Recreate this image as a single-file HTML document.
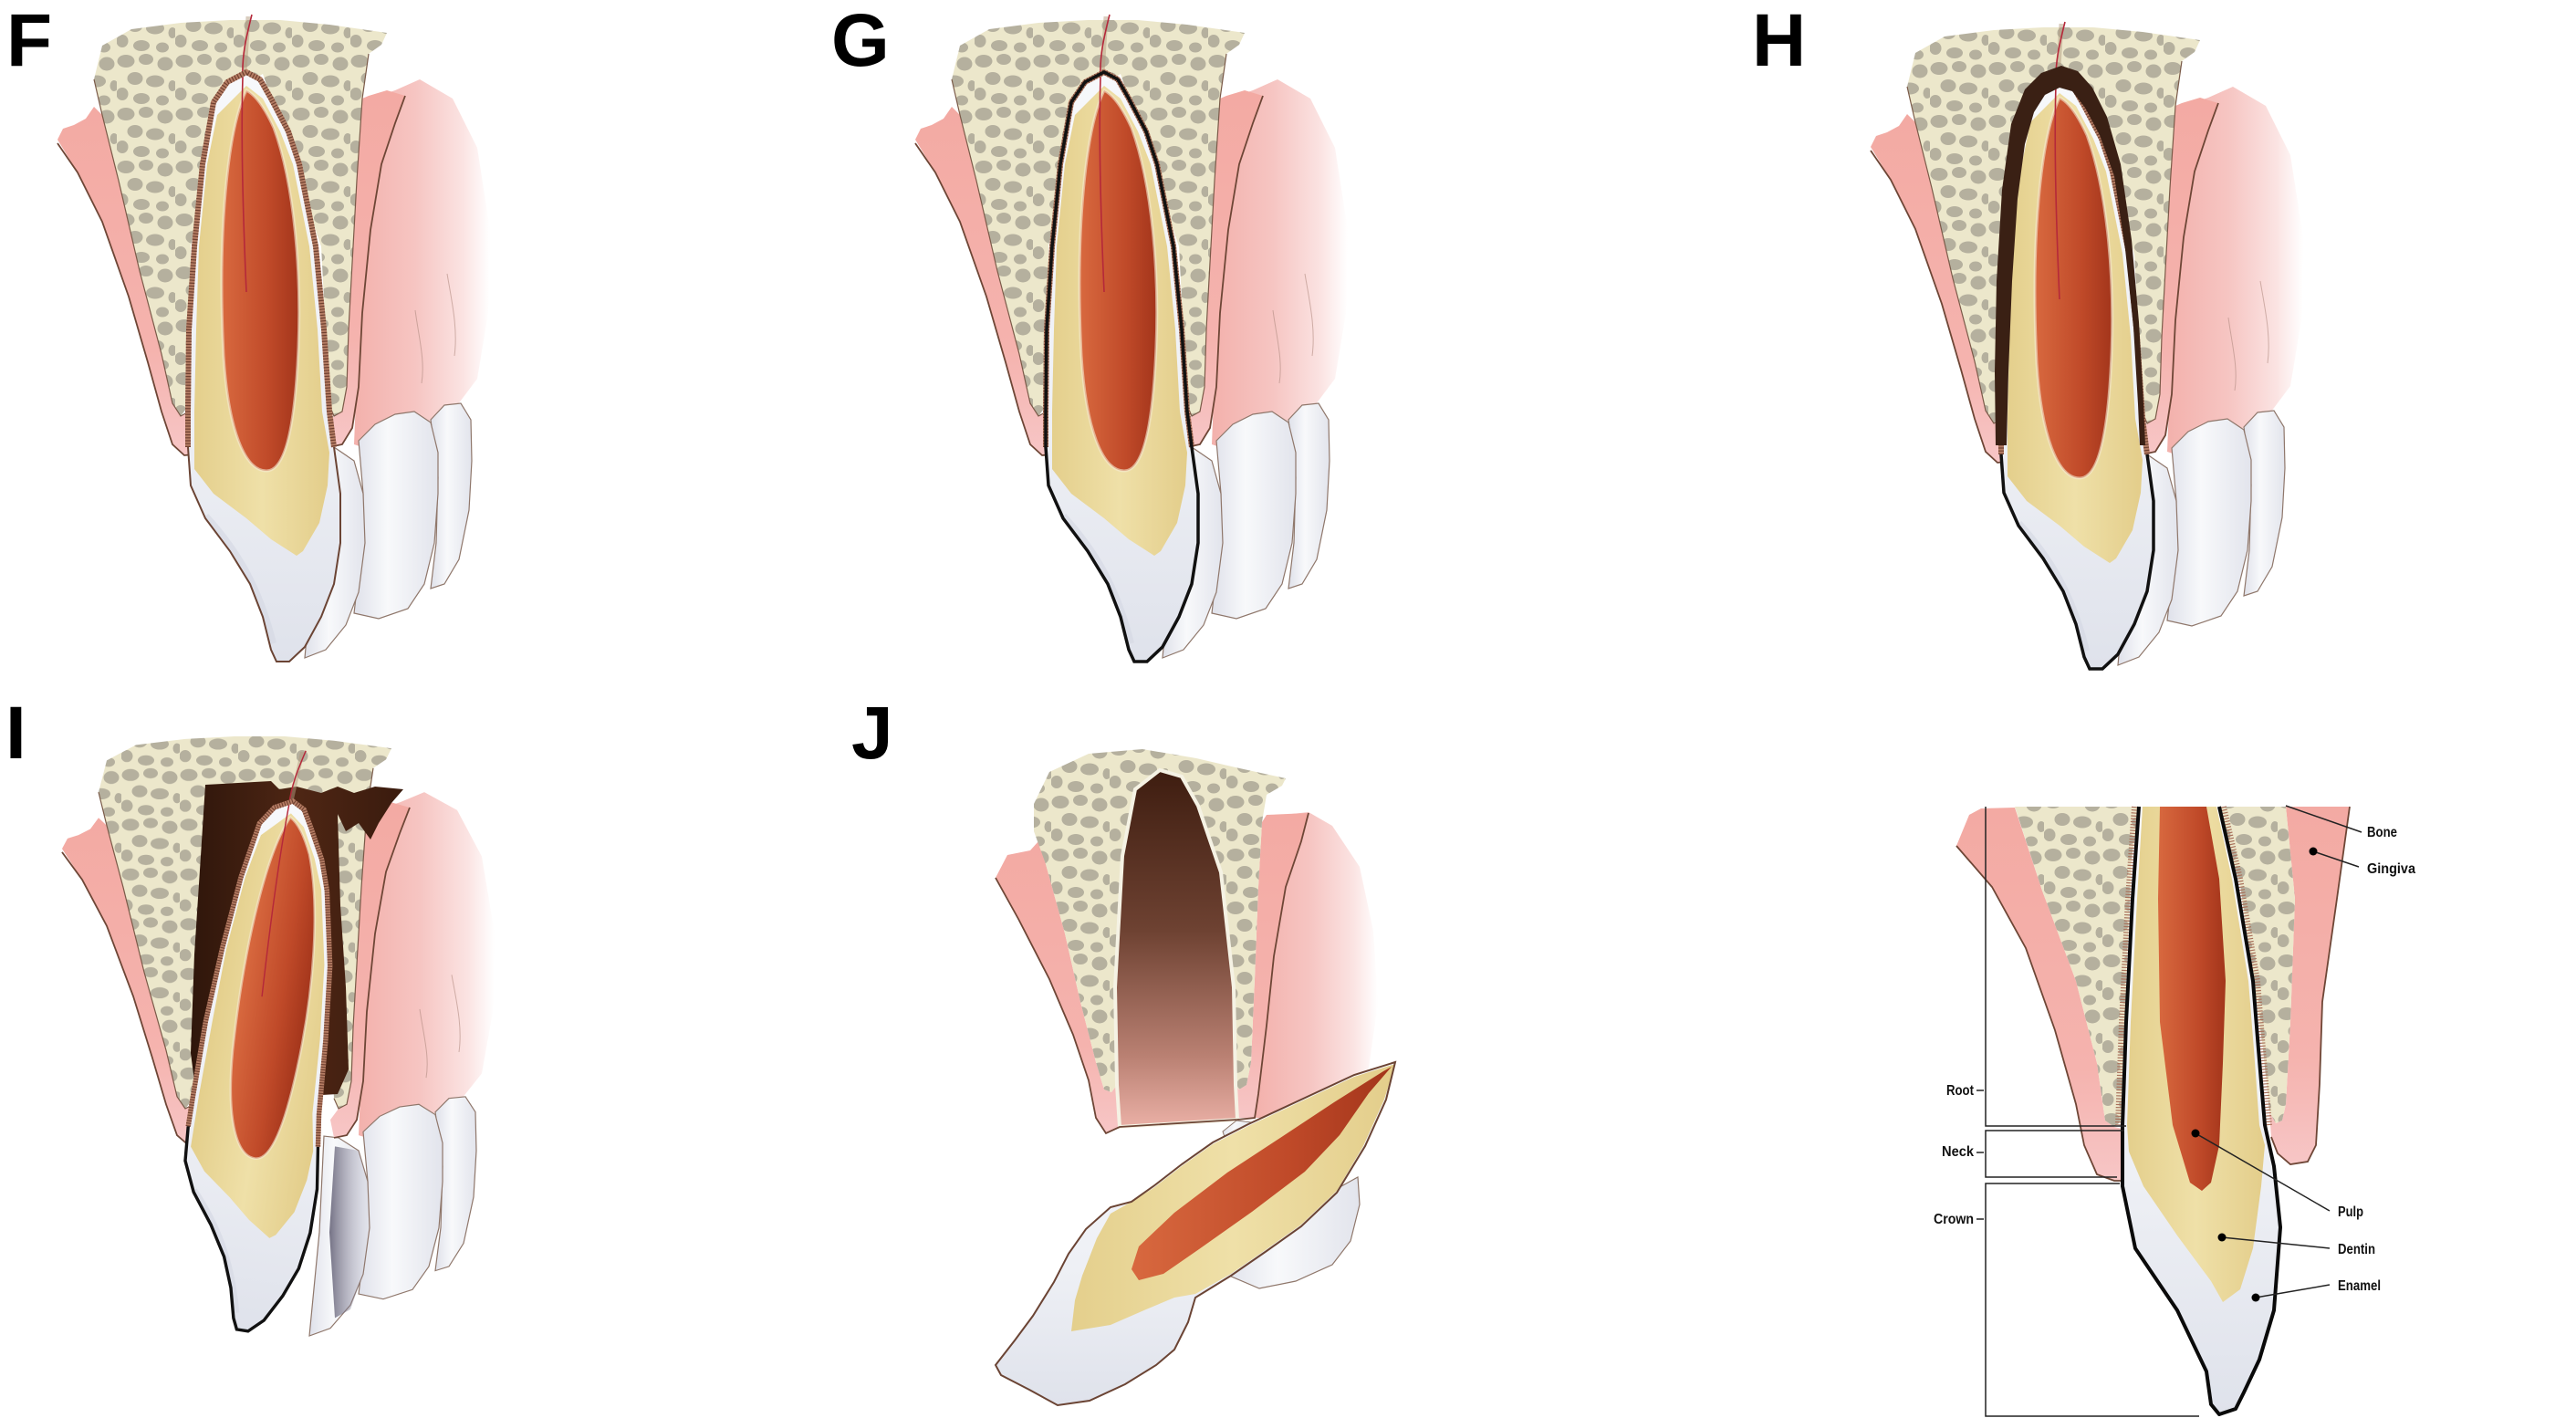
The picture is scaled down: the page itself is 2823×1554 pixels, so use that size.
<!DOCTYPE html>
<html><head><meta charset="utf-8">
<style>
html,body{margin:0;padding:0;background:#fff;}
svg{display:block;}
.lbl{font-family:"Liberation Sans",Arial,sans-serif;font-weight:bold;font-size:82px;fill:#000;}
.sm{font-family:"Liberation Sans",Arial,sans-serif;font-weight:bold;font-size:16px;fill:#111;}
</style></head><body>
<svg width="2823" height="1554" viewBox="0 0 2823 1554" xmlns="http://www.w3.org/2000/svg">
<defs>
<pattern id="dots" width="64" height="58" patternUnits="userSpaceOnUse">
<rect width="64" height="58" fill="#ece7cb"/>
<g fill="#b5b09e">
<ellipse cx="10" cy="9" rx="9.5" ry="7"/><ellipse cx="32" cy="7" rx="8" ry="6"/><ellipse cx="53" cy="12" rx="8.5" ry="7.5"/>
<ellipse cx="20" cy="28" rx="8.5" ry="7"/><ellipse cx="42" cy="31" rx="10" ry="6.5"/><ellipse cx="61" cy="36" rx="4.5" ry="6"/>
<ellipse cx="6" cy="45" rx="6.5" ry="7"/><ellipse cx="27" cy="50" rx="9" ry="6"/><ellipse cx="50" cy="52" rx="7" ry="5.5"/>
</g></pattern>
<linearGradient id="gum" x1="0" y1="0" x2="0" y2="1"><stop offset="0" stop-color="#f3aaa3"/><stop offset="0.7" stop-color="#f5b3ae"/><stop offset="1" stop-color="#f7c6c6"/></linearGradient>
<linearGradient id="soft" x1="0" y1="0" x2="1" y2="0"><stop offset="0" stop-color="#f3b1ac"/><stop offset="0.45" stop-color="#f6c5c2"/><stop offset="0.8" stop-color="#fbe3e2"/><stop offset="1" stop-color="#ffffff"/></linearGradient>
<linearGradient id="pulp" x1="0" y1="0" x2="1" y2="0"><stop offset="0" stop-color="#d8693f"/><stop offset="0.6" stop-color="#c04a29"/><stop offset="1" stop-color="#a3351b"/></linearGradient>
<linearGradient id="dent" x1="0" y1="0" x2="1" y2="0"><stop offset="0" stop-color="#e4cf8c"/><stop offset="0.5" stop-color="#efe0a8"/><stop offset="1" stop-color="#e3cd8a"/></linearGradient>
<linearGradient id="enam" x1="0" y1="0" x2="0" y2="1"><stop offset="0" stop-color="#f7f8fb"/><stop offset="0.6" stop-color="#eef0f5"/><stop offset="1" stop-color="#dfe2eb"/></linearGradient>
<linearGradient id="nb" x1="0" y1="0" x2="1" y2="0"><stop offset="0" stop-color="#dfe1ea"/><stop offset="0.4" stop-color="#f8f9fb"/><stop offset="1" stop-color="#e2e4ec"/></linearGradient>
<linearGradient id="sock" x1="0" y1="0" x2="0" y2="1"><stop offset="0" stop-color="#3e1d10"/><stop offset="0.45" stop-color="#6e4232"/><stop offset="0.8" stop-color="#b98072"/><stop offset="1" stop-color="#eab0a6"/></linearGradient>
<linearGradient id="abs" x1="0" y1="0" x2="1" y2="0"><stop offset="0" stop-color="#2f160b"/><stop offset="0.5" stop-color="#4e2614"/><stop offset="1" stop-color="#3a1b0e"/></linearGradient>
<linearGradient id="purp" x1="0" y1="0" x2="1" y2="0"><stop offset="0" stop-color="#5d5a70" stop-opacity="0.85"/><stop offset="1" stop-color="#9a98ad" stop-opacity="0"/></linearGradient>

<path id="pT" d="M206,490 L206,451 L207,361 L213,270 L222,180 L234,112 L249,90 L270,79 L285,87 L297,108 L316,144 L328,180 L346,270 L355,361 L361,451 L366,490 L373,541 L373,595 L366,640 L352,676 L334,709 L317,725 L303,725 L297,712 L288,676 L274,640 L252,604 L225,568 L209,532 Z"/>
<path id="pCO" d="M206,490 L209,532 L225,568 L252,604 L274,640 L288,676 L297,712 L303,725 L317,725 L334,709 L352,676 L366,640 L373,595 L373,541 L366,490"/>
<path id="pRE" d="M206,490 L206,451 L207,361 L213,270 L222,180 L234,112 L249,90 L270,79 L285,87 L297,108 L316,144 L328,180 L346,270 L355,361 L361,451 L366,490"/>

<g id="base">
<path d="M415,105 L433,99 L460,87 L496,108 L523,162 L537,252 L535,343 L523,415 L496,451 L451,469 L397,490 L388,487 L393,361 L400,250 L410,160 Z" fill="url(#soft)"/>
<path d="M490,300 C495,330 502,360 498,390 M455,340 C459,370 466,395 462,420" stroke="#b08a80" stroke-width="1" fill="none" opacity="0.6"/>
<path d="M472,460 L487,444 L505,442 L516,460 L517,505 L514,559 L503,613 L487,640 L472,645 L478,595 L480,523 Z" fill="url(#nb)" stroke="#8f776b" stroke-width="1.2"/>
<path d="M393,483 L411,465 L433,454 L454,451 L472,463 L480,496 L480,541 L476,595 L465,640 L447,667 L415,678 L388,672 L397,595 L398,541 Z" fill="url(#nb)" stroke="#8f776b" stroke-width="1.2"/>
<path d="M350,488 L366,490 L388,505 L398,541 L400,595 L393,649 L379,685 L357,712 L334,721 L345,600 Z" fill="url(#nb)" stroke="#8f776b" stroke-width="1.2"/>
<path d="M404,105 L424,99 L444,105 L433,135 L418,180 L406,252 L397,343 L393,424 L386,469 L375,487 L361,490 L357,469 L366,456 L375,451 L380,424 L382,361 L386,288 L391,198 L397,108 Z" fill="url(#gum)"/>
<path d="M63,153 L69,141 L81,137 L94,130 L103,117 L112,126 L130,198 L153,297 L177,388 L189,442 L198,456 L207,451 L211,472 L213,498 L202,499 L189,487 L177,451 L162,397 L141,325 L112,243 L85,189 Z" fill="url(#gum)"/>
<path d="M103,87 L112,50 L144,32 L198,25 L252,22 L307,22 L361,27 L424,36 L418,49 L404,59 L397,108 L391,198 L386,288 L382,361 L380,424 L375,451 L366,456 L361,444 L352,270 L288,81 L243,108 L209,270 L207,444 L198,456 L189,442 L177,388 L153,297 L130,198 L112,126 Z" fill="url(#dots)"/>
<polyline points="63,157 85,189 112,243 141,325 162,397 177,451 189,487 202,499 213,498" fill="none" stroke="#6e4636" stroke-width="1.8"/>
<polyline points="444,105 433,135 418,180 406,252 397,343 393,424 386,469 375,487 361,490" fill="none" stroke="#6e4636" stroke-width="1.8"/>
<polyline points="103,87 112,126 130,198 153,297 177,388 189,442 198,456 207,451" fill="none" stroke="#7a5a48" stroke-width="1.2"/>
<polyline points="404,59 397,108 391,198 386,288 382,361 380,424 375,451 366,456 361,444" fill="none" stroke="#7a5a48" stroke-width="1.2"/>
</g>

<g id="tooth">
<use href="#pT" fill="url(#enam)"/>
<path d="M226,565 C258,600 284,640 300,705" fill="none" stroke="#d3d7e2" stroke-width="6" opacity="0.6"/>
<path d="M270,94 L288,108 L307,144 L321,180 L339,270 L348,361 L353,451 L361,496 L359,532 L350,573 L332,604 L325,609 L297,591 L270,568 L234,541 L213,514 L213,451 L215,361 L218,270 L227,180 L238,126 Z" fill="url(#dent)"/>
<path d="M270,99 C250,140 238,250 245,390 C250,470 268,516 292,516 C312,516 322,470 326,400 C332,300 322,200 300,140 C290,118 280,104 270,99 Z" fill="url(#pulp)" stroke="#f5ead0" stroke-width="3" stroke-opacity="0.6"/>
<path d="M272,18 L268,80" stroke="#b49c80" stroke-width="5" opacity="0.5"/>
<path d="M276,16 C270,40 265,60 266,85 C264,150 266,230 270,320" stroke="#b5283a" stroke-width="1.6" fill="none"/>
<use href="#pRE" fill="none" stroke="#b57d64" stroke-width="6"/>
<use href="#pRE" fill="none" stroke="#6f4030" stroke-width="6" stroke-dasharray="1.2 2"/>
<use href="#pCO" fill="none" stroke="#6b4434" stroke-width="2"/>
</g>
</defs>

<rect width="2823" height="1554" fill="#ffffff"/>

<!-- Panel labels -->
<text class="lbl" x="7" y="72">F</text>
<text class="lbl" x="911" y="72">G</text>
<text class="lbl" x="1920" y="72">H</text>
<text class="lbl" x="6" y="831">I</text>
<text class="lbl" x="933" y="831">J</text>

<!-- F -->
<use href="#base"/>
<use href="#tooth"/>

<!-- G -->
<g transform="translate(940,0)">
<use href="#base"/>
<use href="#tooth"/>
<use href="#pT" fill="none" stroke="#111" stroke-width="3.5"/>
</g>

<!-- H -->
<g transform="translate(1987,8)">
<use href="#base"/>
<use href="#tooth"/>
<path d="M200,480 L199,400 L201,300 L207,200 L217,128 L232,90 L250,72 L272,64 L290,70 L306,88 L322,120 L337,172 L349,255 L357,345 L362,435 L364,480 L358,480 L356,435 L351,350 L342,265 L330,185 L314,140 L298,110 L284,92 L270,88 L254,96 L242,115 L232,150 L224,210 L218,300 L214,400 L212,480 Z" fill="#3a2014"/>
<use href="#pCO" fill="none" stroke="#111" stroke-width="3.5"/>
</g>

<!-- I -->
<g transform="translate(5,807) scale(1,0.94) translate(0,-22)">
<use href="#base"/>
<path d="M362,500 L388,505 L398,541 L400,595 L393,649 L379,690 L362,700 L356,600 Z" fill="url(#purp)"/>
</g>
<path d="M225,860 L297,856 L306,865 L325,862 L352,869 L370,862 L388,869 L411,862 L442,865 L429,880 L415,902 L406,920 L393,902 L379,911 L370,892 L373,992 L379,1082 L382,1172 L370,1199 L216,1208 L209,1154 L213,1046 L220,938 Z" fill="url(#abs)"/>
<g transform="translate(321,878) rotate(9) scale(0.9) translate(-270,-79)">
<use href="#tooth"/>
<use href="#pCO" fill="none" stroke="#111" stroke-width="3.8"/>
</g>

<!-- J -->
<g>
<path d="M1388,895 L1434,890 L1460,905 L1490,950 L1505,1020 L1510,1100 L1500,1170 L1480,1210 L1440,1225 L1375,1225 Z" fill="url(#soft)"/>
<path d="M1091,962 L1104,937 L1129,932 L1138,922 L1146,947 L1167,1023 L1184,1098 L1201,1164 L1210,1194 L1218,1197 L1224,1189 L1227,1235 L1212,1242 L1201,1225 L1193,1184 L1176,1134 L1150,1073 L1116,1007 Z" fill="url(#gum)"/>
<path d="M1383,901 L1388,893 L1434,891 L1426,922 L1409,972 L1396,1048 L1388,1124 L1379,1199 L1375,1225 L1354,1225 L1354,1189 L1358,1194 L1366,1189 L1371,1164 L1375,1073 L1379,972 Z" fill="url(#gum)"/>
<path d="M1133,881 L1150,846 L1193,826 L1252,821 L1311,831 L1354,841 L1409,853 L1405,861 L1388,871 L1383,901 L1379,972 L1375,1073 L1371,1164 L1366,1189 L1358,1194 L1354,1189 L1352,1082 L1338,956 L1313,883 L1295,851 L1271,844 L1244,865 L1230,938 L1222,1082 L1224,1189 L1218,1197 L1210,1194 L1201,1164 L1184,1098 L1167,1023 L1146,947 L1133,911 Z" fill="url(#dots)"/>
<path d="M1271,844 L1244,865 L1230,938 L1222,1082 L1224,1189 L1227,1235 L1356,1227 L1354,1189 L1352,1082 L1338,956 L1313,883 L1295,851 Z" fill="url(#sock)" stroke="#f5f2e4" stroke-width="4"/>
<polyline points="1091,962 1116,1007 1150,1073 1176,1134 1193,1184 1201,1225 1212,1242 1227,1235 1356,1227 1375,1225 1379,1199 1388,1124 1396,1048 1409,972 1426,922 1434,891" fill="none" stroke="#6e4636" stroke-width="1.8"/>
<path d="M1340,1240 L1355,1228 L1372,1230 L1368,1250 L1345,1255 Z" fill="url(#nb)" stroke="#8f776b" stroke-width="1"/>
<path d="M1340,1395 L1380,1412 L1420,1404 L1460,1386 L1480,1360 L1490,1320 L1488,1290 L1470,1300 L1440,1320 L1400,1350 Z" fill="url(#nb)" stroke="#8f776b" stroke-width="1.2"/>
<path d="M1529,1164 L1484,1178 L1426,1205 L1368,1232 L1329,1252 L1295,1276 L1264,1300 L1240,1317 L1217,1323 L1190,1347 L1171,1374 L1155,1405 L1132,1442 L1112,1469 L1091,1496 L1097,1507 L1128,1523 L1159,1540 L1194,1535 L1233,1517 L1267,1496 L1287,1479 L1302,1449 L1310,1422 L1349,1398 L1388,1371 L1426,1344 L1465,1307 L1496,1256 L1519,1205 Z" fill="url(#enam)"/>
<path d="M1529,1166 L1484,1180 L1426,1207 L1368,1234 L1329,1254 L1295,1278 L1264,1302 L1240,1317 L1217,1330 L1202,1357 L1186,1398 L1178,1425 L1174,1459 L1217,1452 L1256,1435 L1287,1422 L1310,1418 L1349,1396 L1388,1369 L1426,1342 L1465,1305 L1494,1256 L1517,1205 Z" fill="url(#dent)"/>
<path d="M1525,1169 L1516,1174 L1462,1208 L1403,1247 L1345,1285 L1287,1329 L1248,1366 L1240,1391 L1248,1403 L1275,1396 L1314,1369 L1372,1328 L1430,1284 L1468,1244 L1500,1198 Z" fill="url(#pulp)"/>
<path d="M1529,1164 L1484,1178 L1426,1205 L1368,1232 L1329,1252 L1295,1276 L1264,1300 L1240,1317 L1217,1323 L1190,1347 L1171,1374 L1155,1405 L1132,1442 L1112,1469 L1091,1496 L1097,1507 L1128,1523 L1159,1540 L1194,1535 L1233,1517 L1267,1496 L1287,1479 L1302,1449 L1310,1422 L1349,1398 L1388,1371 L1426,1344 L1465,1307 L1496,1256 L1519,1205 Z" fill="none" stroke="#6b4434" stroke-width="2"/>
</g>

<!-- Labeled panel -->
<g>
<path d="M2158,893 L2171,886 L2208,885 L2238,976 L2275,1075 L2298,1165 L2307,1228 L2317,1235 L2326,1237 L2328,1294 L2317,1294 L2298,1287 L2284,1255 L2275,1210 L2252,1129 L2220,1039 L2183,972 L2144,927 Z" fill="url(#gum)"/>
<path d="M2505,884 L2575,884 L2561,985 L2545,1098 L2542,1188 L2538,1255 L2529,1273 L2510,1276 L2496,1264 L2489,1246 L2487,1219 L2494,1231 L2501,1228 L2505,1210 L2510,1120 L2515,985 Z" fill="url(#gum)"/>
<path d="M2208,884 L2345,884 L2336,940 L2330,1075 L2326,1228 L2317,1235 L2307,1228 L2298,1165 L2275,1075 L2238,976 Z" fill="url(#dots)"/>
<path d="M2430,884 L2505,884 L2515,985 L2510,1120 L2505,1210 L2501,1228 L2494,1231 L2487,1219 L2480,1150 L2470,1075 L2455,970 Z" fill="url(#dots)"/>
<polyline points="2144,927 2183,972 2220,1039 2252,1129 2275,1210 2284,1255 2298,1287 2317,1294 2326,1294" fill="none" stroke="#6e4636" stroke-width="1.8"/>
<polyline points="2575,884 2561,985 2545,1098 2542,1188 2538,1255 2529,1273 2510,1276 2496,1264 2489,1246" fill="none" stroke="#6e4636" stroke-width="1.8"/>
<path d="M2344,884 L2337,985 L2330,1120 L2326,1233 L2326,1300 L2340,1368 L2386,1436 L2418,1503 L2423,1539 L2432,1550 L2450,1544 L2459,1526 L2476,1490 L2492,1436 L2499,1345 L2492,1278 L2482,1233 L2475,1150 L2469,1075 L2450,963 L2432,884 Z" fill="url(#enam)"/>
<path d="M2348,884 L2342,985 L2335,1120 L2331,1233 L2333,1262 L2349,1300 L2386,1354 L2423,1404 L2436,1427 L2455,1413 L2469,1368 L2478,1300 L2482,1255 L2476,1233 L2470,1150 L2464,1075 L2446,963 L2429,884 Z" fill="url(#dent)"/>
<path d="M2367,884 L2418,884 L2432,963 L2439,1075 L2436,1165 L2432,1255 L2423,1296 L2413,1305 L2400,1296 L2381,1233 L2367,1120 L2365,985 Z" fill="url(#pulp)"/>
<polyline points="2339,884 2332,985 2325,1120 2321,1233" fill="none" stroke="#a8705a" stroke-width="6" stroke-dasharray="1.2 2"/>
<polyline points="2437,884 2455,963 2474,1075 2480,1150 2487,1233" fill="none" stroke="#a8705a" stroke-width="6" stroke-dasharray="1.2 2"/>
<path d="M2344,884 L2337,985 L2330,1120 L2326,1233 L2326,1300 L2340,1368 L2386,1436 L2418,1503 L2423,1539 L2432,1550 L2450,1544 L2459,1526 L2476,1490 L2492,1436 L2499,1345 L2492,1278 L2482,1233 L2475,1150 L2469,1075 L2450,963 L2432,884" fill="none" stroke="#0a0a0a" stroke-width="4" stroke-linejoin="round"/>

<g stroke="#222" stroke-width="1.5" fill="none">
<polyline points="2176,884 2176,1234 2330,1234"/>
<polyline points="2328,1239 2176,1239 2176,1290 2320,1290"/>
<polyline points="2323,1297 2176,1297 2176,1552 2410,1552"/>
<line x1="2166" y1="1195" x2="2174" y2="1195"/>
<line x1="2166" y1="1263" x2="2174" y2="1263"/>
<line x1="2166" y1="1336" x2="2174" y2="1336"/>
<line x1="2505" y1="883" x2="2588" y2="912"/>
<line x1="2535" y1="933" x2="2585" y2="950"/>
<line x1="2406" y1="1242" x2="2553" y2="1327"/>
<line x1="2435" y1="1356" x2="2553" y2="1368"/>
<line x1="2472" y1="1422" x2="2553" y2="1408"/>
</g>
<g fill="#000">
<circle cx="2535" cy="933" r="4.5"/>
<circle cx="2406" cy="1242" r="4.5"/>
<circle cx="2435" cy="1356" r="4.5"/>
<circle cx="2472" cy="1422" r="4.5"/>
</g>
<text class="sm" x="2594" y="917" textLength="33" lengthAdjust="spacingAndGlyphs">Bone</text>
<text class="sm" x="2594" y="957" textLength="53" lengthAdjust="spacingAndGlyphs">Gingiva</text>
<text class="sm" x="2133" y="1200" textLength="30" lengthAdjust="spacingAndGlyphs">Root</text>
<text class="sm" x="2128" y="1267" textLength="35" lengthAdjust="spacingAndGlyphs">Neck</text>
<text class="sm" x="2119" y="1341" textLength="44" lengthAdjust="spacingAndGlyphs">Crown</text>
<text class="sm" x="2562" y="1333" textLength="28" lengthAdjust="spacingAndGlyphs">Pulp</text>
<text class="sm" x="2562" y="1374" textLength="41" lengthAdjust="spacingAndGlyphs">Dentin</text>
<text class="sm" x="2562" y="1414" textLength="47" lengthAdjust="spacingAndGlyphs">Enamel</text>
</g>
</svg>
</body></html>
